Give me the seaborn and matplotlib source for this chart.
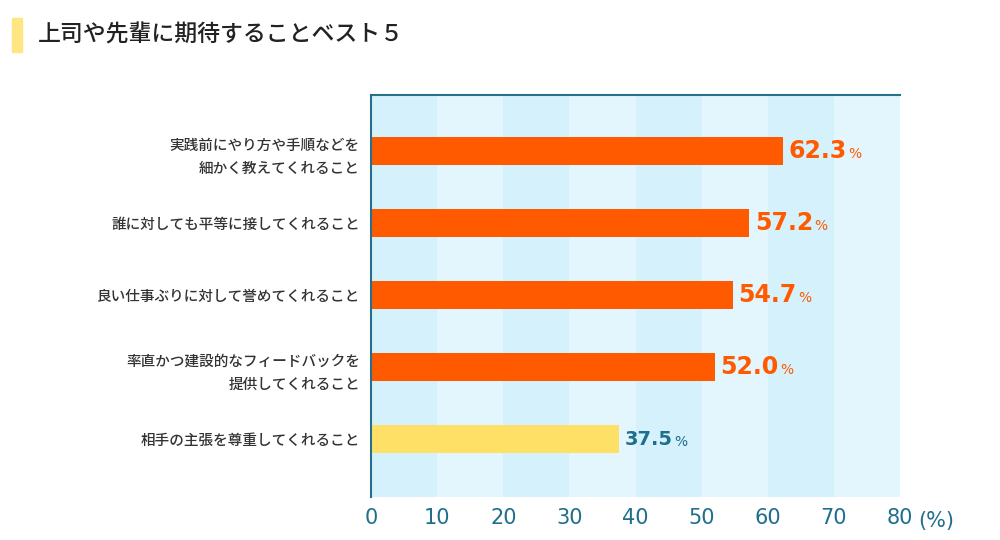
import matplotlib
matplotlib.use("Agg")
import matplotlib.pyplot as plt
import seaborn as sns
import pandas as pd
from matplotlib.patches import Rectangle

categories = ["実践前にやり方や手順などを\n細かく教えてくれること",
              "誰に対しても平等に接してくれること",
              "良い仕事ぶりに対して誉めてくれること",
              "率直かつ建設的なフィードバックを\n提供してくれること",
              "相手の主張を尊重してくれること"]
values = [62.3, 57.2, 54.7, 52.0, 37.5]
xticks = [0, 10, 20, 30, 40, 50, 60, 70, 80]

plt.rcParams["font.family"] = "Noto Sans CJK JP"
ORANGE = "#ff5a00"; YELLOW = "#ffe066"; TEAL = "#1f6e8c"
colors = [ORANGE]*4 + [YELLOW]

fig = plt.figure(figsize=(10, 5.4), dpi=100)
ax = fig.add_axes([0.371, 0.080, 0.529, 0.744])
for i in range(8):
    ax.axvspan(i*10, i*10+10, color="#d5f2fc" if i % 2 == 0 else "#e4f6fd", zorder=0, lw=0)

df = pd.DataFrame({"cat": categories, "val": values})
sns.barplot(data=df, x="val", y="cat", hue="cat", palette=colors, legend=False,
            width=0.39, ax=ax, zorder=2, saturation=1)
ax.set_xlim(0, 80)
ax.set_ylim(4.8, -0.78)
ax.set_xticks(xticks)
ax.set_xticklabels([str(t) for t in xticks], fontfamily="DejaVu Sans")
ax.tick_params(axis="x", length=0, labelsize=15, labelcolor=TEAL, pad=8)
ax.tick_params(axis="y", length=0, labelsize=10.5, labelcolor="#333333", pad=8)
for lbl in ax.get_yticklabels():
    lbl.set_fontweight("medium")
    lbl.set_linespacing(1.8)
ax.text(1.035, -0.035, "(%)", transform=ax.transAxes, fontsize=15, color=TEAL,
        ha="left", va="top", fontfamily="DejaVu Sans")
ax.set_xlabel(""); ax.set_ylabel("")
for s in ["right", "bottom"]:
    ax.spines[s].set_visible(False)
ax.spines["left"].set_color("#2a6f8a"); ax.spines["left"].set_linewidth(1.5)
ax.spines["top"].set_color("#2a6f8a"); ax.spines["top"].set_linewidth(1.5)

for i, v in enumerate(values):
    c = ORANGE if i < 4 else TEAL
    size = 17 if i < 4 else 14
    t = ax.annotate(f"{v:.1f}", (v, i), xytext=(4, 0), textcoords="offset points",
                    va="center", ha="left", fontsize=size, color=c, zorder=3,
                    fontfamily="DejaVu Sans", fontweight="bold")
    ax.annotate("%", xy=(1, 0.5), xycoords=t, xytext=(1, -2), textcoords="offset points",
                va="center", ha="left", fontsize=10, color=c, fontfamily="DejaVu Sans")

fig.patches.append(Rectangle((12/1000, 1-52/540), 10/1000, 34/540, transform=fig.transFigure,
                             color="#ffe680", zorder=1))
fig.text(0.038, 1-35/540, "上司や先輩に期待することベスト５", fontsize=16.5, va="center",
         ha="left", color="#222222", fontweight="medium")
fig.savefig("out.png", dpi=100)
